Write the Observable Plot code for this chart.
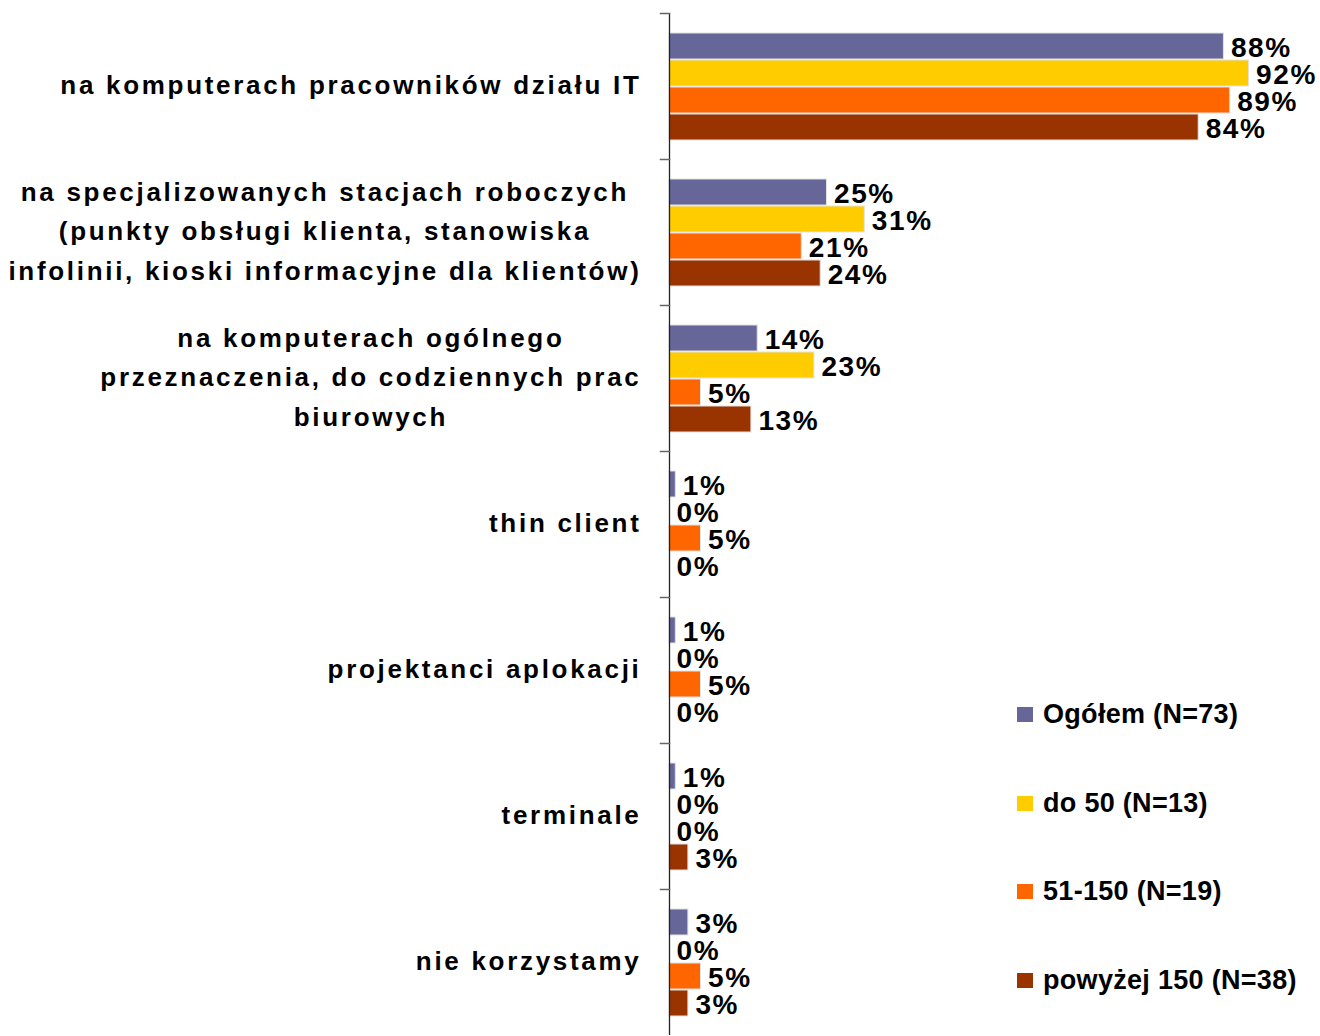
<!DOCTYPE html>
<html>
<head>
<meta charset="utf-8">
<script src="https://cdn.jsdelivr.net/npm/d3@7"></script>
<script src="https://cdn.jsdelivr.net/npm/@observablehq/plot@0.6"></script>
<style>
  html, body { margin: 0; padding: 0; background: white; }
  #wrap { position: relative; width: 1320px; height: 1036px; overflow: hidden; }
  #wrap svg g[aria-label="fy-axis tick label"] text { letter-spacing: 2.7px; font-weight: bold; }
  #wrap svg g[aria-label="text"] text { letter-spacing: 1.6px; }
  #legend { position: absolute; left: 1017px; top: 0; font-family: 'Liberation Sans', Arial, sans-serif; font-weight: bold; font-size: 27px; color: #000; letter-spacing: 0.3px; }
  .item { position: absolute; white-space: nowrap; display: flex; align-items: center; height: 30px; }
  .sw { width: 16px; height: 15px; margin-right: 10px; }
</style>
</head>
<body>
<div id="wrap"></div>
<script>
const categories = [
  "na komputerach pracowników działu IT",
  "na specjalizowanych stacjach roboczych\n(punkty obsługi klienta, stanowiska\ninfolinii, kioski informacyjne dla klientów)",
  "na komputerach ogólnego\nprzeznaczenia, do codziennych prac\nbiurowych",
  "thin client",
  "projektanci aplokacji",
  "terminale",
  "nie korzystamy"
];
const series = ["Ogółem (N=73)", "do 50 (N=13)", "51-150 (N=19)", "powyżej 150 (N=38)"];
const ogolem     = [88, 25, 14, 1, 1, 1, 3];
const do50       = [92, 31, 23, 0, 0, 0, 0];
const od51do150  = [89, 21, 5, 5, 5, 0, 5];
const powyzej150 = [84, 24, 13, 0, 0, 3, 3];
const colors = ["#666699", "#FFCC00", "#FF6600", "#993300"];

const seriesValues = [ogolem, do50, od51do150, powyzej150];
const data = [];
categories.forEach((c, i) => {
  series.forEach((s, j) => {
    data.push({category: c, series: s, value: seriesValues[j][i]});
  });
});

const W = 1320, ML = 669, MR = 21;
const plot = Plot.plot({
  width: W,
  height: 1036,
  marginLeft: ML,
  marginRight: MR,
  marginTop: 12,
  marginBottom: 0,
  style: {fontFamily: "'Liberation Sans', Arial, sans-serif", fontWeight: "bold", fontSize: "26px", color: "#000", background: "white", overflow: "visible"},
  x: {domain: [0, 100], axis: null},
  y: {domain: series, axis: null, paddingInner: 0.04, paddingOuter: 0.7},
  fy: {domain: categories, padding: 0, label: null},
  color: {domain: series, range: colors},
  marks: [
    Plot.axisFy({anchor: "left", tickSize: 0, tickPadding: 28, lineHeight: 1.52, label: null, fontSize: 26, dy: -5, fill: "#000"}),
    Plot.barX(data, {fy: "category", y: "series", x: "value", fill: "series", stroke: "#e2e2e2", strokeWidth: 1}),
    Plot.text(data, {fy: "category", y: "series", x: "value", text: d => `${d.value}%`, textAnchor: "start", dx: 7, dy: 2, fontSize: 28, fontWeight: "bold", fill: "#000"}),
    Plot.ruleX([0], {stroke: "#222", strokeWidth: 1.3}),
    Plot.frame({anchor: "top", insetLeft: -9, insetRight: W - ML - MR, stroke: "#666", strokeWidth: 1.5})
  ]
});
const wrap = document.getElementById("wrap");
wrap.appendChild(plot);

// center lines of multi-line category labels within their (right-aligned) block
plot.querySelectorAll('g[aria-label="fy-axis tick label"] text').forEach(t => {
  const w = t.getBBox().width;
  t.setAttribute("text-anchor", "middle");
  const spans = t.querySelectorAll("tspan");
  if (spans.length) spans.forEach(s => s.setAttribute("x", -w / 2));
  else t.setAttribute("x", -w / 2);
});

// legend
const legend = document.createElement("div");
legend.id = "legend";
const legendTops = [699, 788, 876, 965];
series.forEach((s, i) => {
  const it = document.createElement("div");
  it.className = "item";
  it.style.top = legendTops[i] + "px";
  const sw = document.createElement("div");
  sw.className = "sw";
  sw.style.background = colors[i];
  const tx = document.createElement("span");
  tx.textContent = s;
  it.appendChild(sw);
  it.appendChild(tx);
  legend.appendChild(it);
});
wrap.appendChild(legend);
</script>
</body>
</html>
